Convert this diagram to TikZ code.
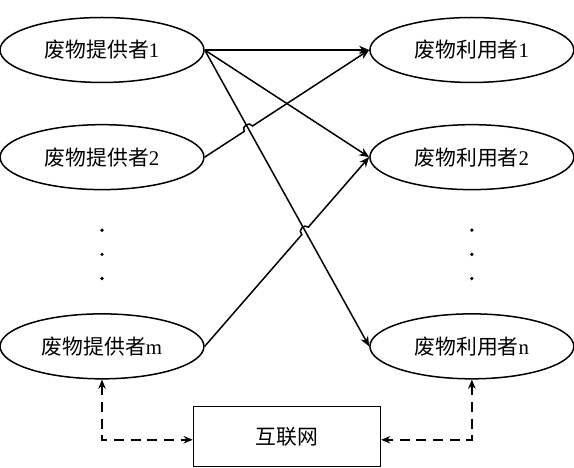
\documentclass[tikz,border=0pt]{standalone}
\usepackage{fontspec}
\setmainfont{Liberation Serif}
\newfontfamily\cjk{Noto Sans CJK SC}
\usepackage{tikz}
\usetikzlibrary{shapes.geometric, arrows.meta, calc, intersections}
\tikzstyle{party} = [ellipse, minimum width=4.3cm, minimum height=1.37cm, inner sep=0pt, text centered, draw=black, line width=0.9pt, font=\fontsize{12.5}{14}\selectfont]
\tikzstyle{hub} = [rectangle, minimum width=3.94cm, minimum height=1.27cm, text centered, draw=black, line width=0.9pt, font=\fontsize{12.5}{14}\selectfont]
\tikzstyle{vdot} = [circle, minimum width=2.2pt, inner sep=0pt, fill]
\tikzstyle{arrow} = [line width=0.9pt,->,>={Stealth[length=6pt,width=5pt]}]
\tikzstyle{dasharrow} = [line width=0.9pt,<->,>={Stealth[length=5.5pt,width=4.5pt]}, dash pattern=on 6pt off 4pt]

\begin{document}
\begin{tikzpicture}[node distance=2.26cm]

\useasboundingbox (-2.151,1.054) rectangle (9.954,-8.815);

\node (pro1) [party] {{\cjk 废物提供者}1};
\node (pro2) [party, below of=pro1] {{\cjk 废物提供者}2};
\node (pro3) [party, below of=pro2, yshift=-1.73cm] {{\cjk 废物提供者}m};
\node (use1) [party, right of=pro1, xshift=5.54cm] {{\cjk 废物利用者}1};
\node (use2) [party, right of=pro2, xshift=5.54cm] {{\cjk 废物利用者}2};
\node (use3) [party, right of=pro3, xshift=5.54cm] {{\cjk 废物利用者}n};
\node (net) [hub, below of=pro3, xshift=3.9cm, yshift=0.36cm] {\cjk 互联网};

\node (ldot1) [vdot, below of=pro2, yshift=0.72cm] {};
\node (ldot2) [vdot, node distance=0.51cm, below of=ldot1] {};
\node (ldot3) [vdot, node distance=0.51cm, below of=ldot2] {};
\node (rdot1) [vdot, below of=use2, yshift=0.72cm] {};
\node (rdot2) [vdot, node distance=0.51cm, below of=rdot1] {};
\node (rdot3) [vdot, node distance=0.51cm, below of=rdot2] {};

% crossings where the rising lines hop over
\path [name path=long] (pro1.east) -- (use3.west);
\path [name path=rise1] (pro2.east) -- (use1.west);
\path [name path=rise2] (pro3.east) -- (use2.west);
\path [name intersections={of=long and rise1, by=hop1}];
\path [name intersections={of=long and rise2, by=hop2}];

\draw [arrow] (pro1.east) -- (use1.west);
\draw [arrow] (pro1.east) -- (use2.west);
\draw [arrow] (pro1.east) -- (use3.west);
\draw [arrow] (pro2.east) -- ($(hop1)!3pt!(pro2.east)$) to[bend left=90, looseness=1.5] ($(hop1)!3pt!(use1.west)$) -- (use1.west);
\draw [arrow] (pro3.east) -- ($(hop2)!3pt!(pro3.east)$) to[bend left=90, looseness=1.5] ($(hop2)!3pt!(use2.west)$) -- (use2.west);

\draw [dasharrow] (pro3.south) |- ([yshift=-2pt]net.west);
\draw [dasharrow] (use3.south) |- ([yshift=-2pt]net.east);

\end{tikzpicture}
\end{document}
